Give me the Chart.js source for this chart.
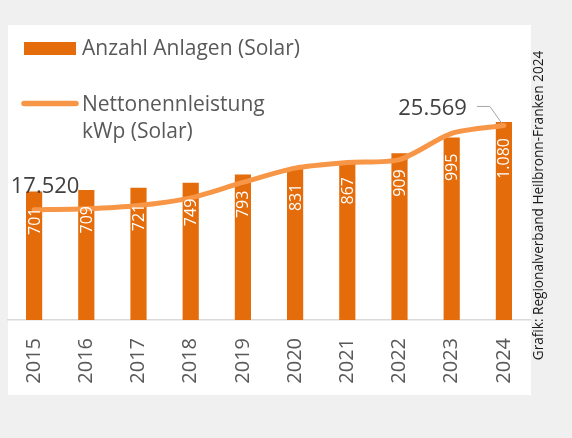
<!DOCTYPE html>
<html>
<head>
<meta charset="utf-8">
<title>Solaranlagen</title>
<script src="https://cdn.jsdelivr.net/npm/chart.js@4.4.1/dist/chart.umd.min.js"></script>
<style>
  html, body { margin: 0; padding: 0; background: #f0f0f0; }
  #wrap { width: 572px; height: 438px; }
</style>
</head>
<body>
<div id="wrap"><canvas id="solarChart" width="572" height="438"></canvas></div>
<script>
const years = ['2015', '2016', '2017', '2018', '2019', '2020', '2021', '2022', '2023', '2024'];
const anlagen = [701, 709, 721, 749, 793, 831, 867, 909, 995, 1080];
const leistung = [17520, 17615, 17927, 18656, 20134, 21497, 22028, 22312, 24812, 25569];
const barLabel = 'Anzahl Anlagen (Solar)';
const lineLabel = ['Nettonennleistung', 'kWp (Solar)'];
const sourceNote = 'Grafik: Regionalverband Heilbronn-Franken 2024';

const FONT = '"Open Sans", "Noto Sans", sans-serif';
const BAR_COLOR = '#e46c0a';
const LINE_COLOR = '#f79646';
const TEXT_COLOR = '#595959';

// 1080 -> "1.080"
function fmt(v) {
  return String(v).replace(/\B(?=(\d{3})+(?!\d))/g, '.');
}

const panel = {
  id: 'panel',
  beforeDraw: (chart) => {
    const ctx = chart.ctx;
    ctx.save();
    ctx.fillStyle = '#f0f0f0';
    ctx.fillRect(0, 0, chart.width, chart.height);
    ctx.fillStyle = '#ffffff';
    ctx.fillRect(8, 25, 523, 370);
    ctx.restore();
  },
};

const labels = {
  id: 'labels',
  afterDatasetsDraw: (chart) => {
    const ctx = chart.ctx;
    ctx.save();

    // white values inside the bars, rotated
    const bars = chart.getDatasetMeta(0).data;
    ctx.fillStyle = '#ffffff';
    ctx.font = '16px ' + FONT;
    ctx.textAlign = 'right';
    ctx.textBaseline = 'middle';
    bars.forEach((bar, i) => {
      ctx.save();
      ctx.translate(bar.x, bar.y + 16);
      ctx.rotate(-Math.PI / 2);
      ctx.fillText(fmt(anlagen[i]), 0, 1);
      ctx.restore();
    });

    // first and last value of the line
    const pts = chart.getDatasetMeta(1).data;
    const first = pts[0];
    const last = pts[pts.length - 1];
    ctx.fillStyle = '#404040';
    ctx.font = '22px ' + FONT;
    ctx.textBaseline = 'alphabetic';
    ctx.textAlign = 'center';
    ctx.fillText(fmt(leistung[0]), first.x + 11, first.y - 17);
    ctx.textAlign = 'right';
    ctx.fillText(fmt(leistung[leistung.length - 1]), last.x - 37, last.y - 10);

    ctx.strokeStyle = '#a6a6a6';
    ctx.lineWidth = 1;
    ctx.beginPath();
    ctx.moveTo(last.x - 27, last.y - 19);
    ctx.lineTo(last.x - 14, last.y - 19);
    ctx.lineTo(last.x - 2, last.y - 2);
    ctx.stroke();

    // legend
    ctx.fillStyle = BAR_COLOR;
    ctx.fillRect(24, 42, 52, 13);
    ctx.strokeStyle = LINE_COLOR;
    ctx.lineWidth = 5.5;
    ctx.lineCap = 'round';
    ctx.beginPath();
    ctx.moveTo(24, 103.5);
    ctx.lineTo(76, 103.5);
    ctx.stroke();
    ctx.fillStyle = TEXT_COLOR;
    ctx.font = '21px ' + FONT;
    ctx.textAlign = 'left';
    ctx.fillText(barLabel, 82, 55);
    ctx.fillText(lineLabel[0], 82, 110.5);
    ctx.fillText(lineLabel[1], 82, 137.5);

    // source note on the right edge
    ctx.fillStyle = '#1a1a1a';
    ctx.font = '13.6px ' + FONT;
    ctx.textAlign = 'center';
    ctx.textBaseline = 'middle';
    ctx.translate(539, 205.5);
    ctx.rotate(-Math.PI / 2);
    ctx.fillText(sourceNote, 0, 0);

    ctx.restore();
  },
};

const solarChart = new Chart(document.getElementById('solarChart'), {
  data: {
    labels: years,
    datasets: [
      {
        type: 'bar',
        label: barLabel,
        data: anlagen,
        backgroundColor: BAR_COLOR,
        categoryPercentage: 1,
        barPercentage: 0.31,
        yAxisID: 'y',
        order: 1,
      },
      {
        type: 'line',
        label: lineLabel.join(' '),
        data: leistung,
        borderColor: LINE_COLOR,
        borderWidth: 5,
        borderCapStyle: 'round',
        borderJoinStyle: 'round',
        pointRadius: 0,
        tension: 0.25,
        yAxisID: 'y2',
        order: 0,
      },
    ],
  },
  plugins: [panel, labels],
  options: {
    responsive: false,
    animation: false,
    devicePixelRatio: 1,
    layout: {
      padding: { top: 100, left: 8, right: 42, bottom: 43 },
    },
    plugins: {
      legend: { display: false },
      tooltip: { enabled: false },
    },
    scales: {
      x: {
        grid: { display: false, drawTicks: false },
        border: { display: true, color: '#d9d9d9', width: 1.5 },
        ticks: {
          minRotation: 90,
          maxRotation: 90,
          padding: 18,
          color: TEXT_COLOR,
          font: { family: FONT, size: 20 },
        },
        afterFit: (scale) => { scale.height = 75; },
      },
      y: { display: false, min: 0, max: 1200 },
      y2: { display: false, position: 'right', min: 7000, max: 28000 },
    },
  },
});
</script>
</body>
</html>
